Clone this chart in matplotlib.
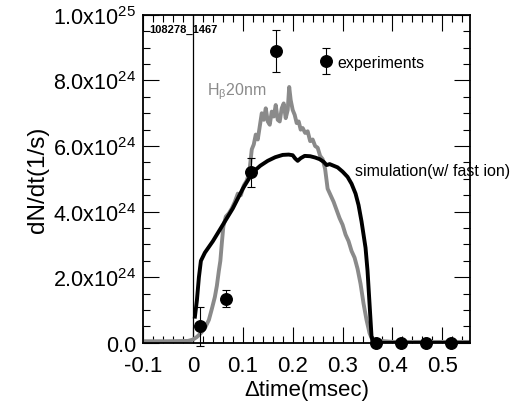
import numpy as np
import matplotlib
matplotlib.use("Agg")
import matplotlib.pyplot as plt
from matplotlib.ticker import MultipleLocator

plt.rcParams['font.family'] = ['Liberation Sans', 'DejaVu Sans']
plt.rcParams['mathtext.fontset'] = 'custom'
plt.rcParams['mathtext.rm'] = 'Liberation Sans'
plt.rcParams['mathtext.it'] = 'Liberation Sans:italic'
plt.rcParams['mathtext.bf'] = 'Liberation Sans:bold'

# --------------------------
# data (values in units of 1e24 1/s)
# --------------------------
hbeta_t = [-0.100, -0.050, -0.010, 0.000, 0.008, 0.016, 0.024, 0.032, 0.038, 0.044,
           0.048, 0.052, 0.055, 0.058, 0.061, 0.066, 0.072, 0.078, 0.084, 0.090,
           0.096, 0.102, 0.108, 0.113, 0.118, 0.122, 0.126, 0.130, 0.134, 0.138,
           0.142, 0.146, 0.150, 0.154, 0.158, 0.162, 0.166, 0.170, 0.174, 0.178,
           0.182, 0.186, 0.190, 0.193, 0.196, 0.200, 0.204, 0.208, 0.212, 0.216,
           0.220, 0.225, 0.230, 0.235, 0.240, 0.245, 0.250, 0.255, 0.260, 0.265,
           0.270, 0.276, 0.282, 0.288, 0.294, 0.300, 0.306, 0.312, 0.318, 0.324,
           0.330, 0.336, 0.342, 0.348, 0.354, 0.360, 0.400, 0.555]
hbeta_v = [0.05, 0.05, 0.06, 0.10, 0.18, 0.30, 0.45, 0.70, 1.04, 1.40,
           1.74, 2.20, 2.50, 3.05, 3.55, 3.85, 3.95, 4.10, 4.30, 4.55,
           4.50, 4.80, 4.95, 5.20, 5.90, 6.05, 6.35, 6.20, 6.60, 7.00,
           6.80, 7.15, 6.75, 6.65, 7.05, 6.90, 7.25, 6.80, 6.75, 7.15,
           7.30, 6.85, 7.10, 7.80, 7.40, 7.10, 6.95, 6.70, 6.75, 6.50,
           6.55, 6.40, 6.45, 6.15, 6.20, 6.00, 5.95, 5.70, 5.60, 5.30,
           4.70, 4.50, 4.30, 4.05, 3.80, 3.60, 3.30, 3.10, 2.80, 2.60,
           2.26, 1.80, 1.20, 0.70, 0.30, 0.08, 0.03, 0.03]

sim_t = [0.004, 0.008, 0.012, 0.016, 0.024, 0.040, 0.056, 0.070, 0.080, 0.090,
         0.100, 0.110, 0.120, 0.135, 0.150, 0.165, 0.180, 0.192, 0.200, 0.205,
         0.210, 0.216, 0.224, 0.235, 0.245, 0.254, 0.262, 0.268, 0.274, 0.282,
         0.290, 0.300, 0.310, 0.318, 0.326, 0.332, 0.338, 0.342, 0.346, 0.350,
         0.354, 0.358, 0.361, 0.555]
sim_v = [0.80, 1.30, 2.00, 2.50, 2.75, 3.10, 3.50, 3.85, 4.10, 4.40,
         4.70, 4.95, 5.20, 5.40, 5.55, 5.66, 5.73, 5.74, 5.72, 5.62,
         5.55, 5.63, 5.70, 5.69, 5.65, 5.60, 5.52, 5.42, 5.45, 5.40,
         5.35, 5.22, 5.06, 4.85, 4.55, 4.20, 3.70, 3.30, 2.90, 2.20,
         1.20, 0.20, 0.00, 0.00]

exp_t = [0.014, 0.066, 0.116, 0.166, 0.267, 0.366, 0.418, 0.468, 0.518]
exp_v = [0.50, 1.35, 5.20, 8.90, 8.60, 0.0, 0.0, 0.0, 0.0]
exp_err = [0.60, 0.27, 0.45, 0.64, 0.40, 0.0, 0.0, 0.0, 0.0]

x_ticks = [-0.1, 0.0, 0.1, 0.2, 0.3, 0.4, 0.5]
x_labels = ["-0.1", "0", "0.1", "0.2", "0.3", "0.4", "0.5"]
y_ticks = [0, 2e24, 4e24, 6e24, 8e24, 1e25]
y_labels = ["0.0", "2.0x10$^{24}$", "4.0x10$^{24}$", "6.0x10$^{24}$",
            "8.0x10$^{24}$", "1.0x10$^{25}$"]

scale = 1e24

# --------------------------
# plot
# --------------------------
fig = plt.figure(figsize=(5.22, 4.06), dpi=100)
ax = fig.add_axes([0.274, 0.153, 0.626, 0.808])

ax.plot(hbeta_t, np.array(hbeta_v) * scale, color='#8a8a8a', lw=2.8, zorder=2)
ax.plot(sim_t, np.array(sim_v) * scale, color='black', lw=2.8, zorder=3)
ax.axvline(0, color='black', lw=0.9, zorder=1)

ax.errorbar(exp_t, np.array(exp_v) * scale, yerr=np.array(exp_err) * scale,
            fmt='o', color='black', ms=8.3, elinewidth=0.8, capsize=3,
            capthick=0.8, zorder=5, clip_on=False)

ax.set_xlim(-0.1, 0.555)
ax.set_ylim(0, 1e25)

ax.set_xticks(x_ticks)
ax.set_xticklabels(x_labels, fontsize=16)
ax.set_yticks(y_ticks)
ax.set_yticklabels(y_labels, fontsize=15.5)
ax.xaxis.set_minor_locator(MultipleLocator(0.02))
ax.yaxis.set_minor_locator(MultipleLocator(0.5e24))

ax.tick_params(which='both', direction='in', top=True, right=True, width=0.8)
ax.tick_params(which='major', length=11.5)
ax.tick_params(which='minor', length=5)
ax.tick_params(axis='x', which='major', pad=9)
ax.tick_params(axis='y', which='major', pad=5)

for sp in ax.spines.values():
    sp.set_linewidth(1.3)

ax.set_xlabel("\u0394time(msec)", fontsize=16, labelpad=2)
ax.set_ylabel("dN/dt(1/s)", fontsize=17.5, labelpad=3)

ax.text(-0.087, 9.57 * scale, "108278_1467", fontsize=8, fontweight='bold',
        va='center', ha='left')
ax.text(0.028, 7.7 * scale, r"H$_{\mathrm{\beta}}$20nm", color='#8a8a8a',
        fontsize=11.5, va='center', ha='left')
ax.text(0.29, 8.54 * scale, "experiments", fontsize=11.5, va='center', ha='left')
ax.text(0.324, 5.24 * scale, "simulation(w/ fast ion)", fontsize=11.5,
        va='center', ha='left', clip_on=False)

fig.savefig("out.png", dpi=100)
